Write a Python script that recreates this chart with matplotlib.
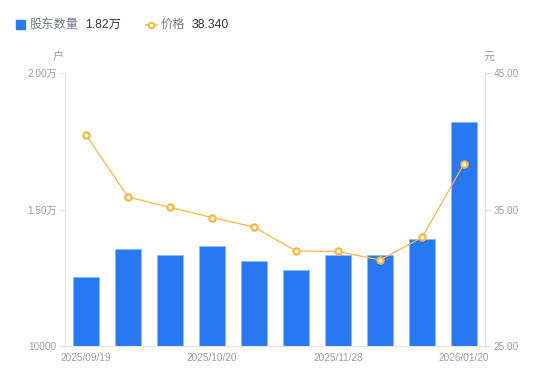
import numpy as np
import matplotlib
matplotlib.use("Agg")
import matplotlib.pyplot as plt
from matplotlib.ticker import FixedLocator

plt.rcParams['font.family'] = ['Liberation Sans', 'Noto Sans CJK SC', 'DejaVu Sans']

dates = ["2025/09/19", "2025/09/30", "2025/10/10", "2025/10/20", "2025/10/31",
         "2025/11/10", "2025/11/28", "2025/12/10", "2025/12/31", "2026/01/20"]
holders = [12530, 13540, 13350, 13680, 13110, 12770, 13330, 13330, 13920, 18200]
price = [40.46, 35.92, 35.15, 34.41, 33.72, 31.96, 31.93, 31.30, 32.95, 38.34]
shown_ticks = [0, 3, 6, 9]
left_ticks = [10000, 15000, 20000]
left_labels = ["10000", "1.50万", "2.00万"]
right_ticks = [25, 35, 45]

blue = "#2878f3"
orange = "#ffb53c"
grey_txt = "#9a9caa"
axis_col = "#e3e3e6"

fig = plt.figure(figsize=(5.5, 3.81), dpi=100)
ax = fig.add_axes([65 / 550, 1 - 346 / 381, 420 / 550, 273 / 381])
x = np.arange(len(dates))
ax.bar(x, holders, width=0.6, color=blue, edgecolor="#8fb8f8", linewidth=0.6, zorder=2)
ax.set_xlim(-0.5, len(dates) - 0.5)
ax.set_ylim(10000, 20000)
ax.yaxis.set_major_locator(FixedLocator(left_ticks))
ax.set_yticklabels(left_labels)
ax.set_xticks([x[i] for i in shown_ticks])
ax.set_xticklabels([dates[i] for i in shown_ticks])

ax2 = ax.twinx()
ax2.plot(x, price, color=orange, linewidth=0.9, marker="o", markersize=4.5,
         markerfacecolor="white", markeredgecolor=orange, markeredgewidth=1.6, zorder=3)
ax2.set_ylim(25, 45)
ax2.set_yticks(right_ticks)
ax2.set_yticklabels([f"{v:.2f}" for v in right_ticks])

for a in (ax, ax2):
    for s in a.spines.values():
        s.set_visible(False)
    a.tick_params(colors=axis_col, labelcolor=grey_txt, labelsize=7.2, length=4, width=0.8)
ax.spines['left'].set_visible(True)
ax.spines['left'].set_color(axis_col)
ax.spines['bottom'].set_visible(True)
ax.spines['bottom'].set_color(axis_col)
ax2.spines['right'].set_visible(True)
ax2.spines['right'].set_color(axis_col)
ax.tick_params(axis='x', length=0, pad=5)
ax.tick_params(axis='y', pad=2)
ax2.tick_params(axis='y', pad=2)

fig.text(58 / 550, 1 - 57 / 381, "户", color=grey_txt, fontsize=8, ha="center", va="center")
fig.text(489 / 550, 1 - 57 / 381, "元", color=grey_txt, fontsize=8, ha="center", va="center")

# legend
fig.patches.append(plt.Rectangle((16 / 550, 1 - 29 / 381), 9 / 550, 9 / 381,
                                 transform=fig.transFigure, color=blue, figure=fig))
fig.text(30 / 550, 1 - 24.5 / 381, "股东数量", color="#777a86", fontsize=8.8, va="center")
fig.text(85 / 550, 1 - 24.5 / 381, "1.82万", color="#333333", fontsize=8.8, va="center")
fig.add_artist(plt.Line2D([146 / 550, 156 / 550], [1 - 24.5 / 381] * 2, transform=fig.transFigure,
                          color=orange, linewidth=1.2))
fig.add_artist(plt.Line2D([151 / 550], [1 - 24.5 / 381], transform=fig.transFigure, marker="o",
                          markersize=4, markerfacecolor="white", markeredgecolor=orange,
                          markeredgewidth=1.4))
fig.text(161 / 550, 1 - 24.5 / 381, "价格", color="#777a86", fontsize=8.8, va="center")
fig.text(192 / 550, 1 - 24.5 / 381, "38.340", color="#333333", fontsize=8.8, va="center")

fig.savefig("out.png", dpi=100)
